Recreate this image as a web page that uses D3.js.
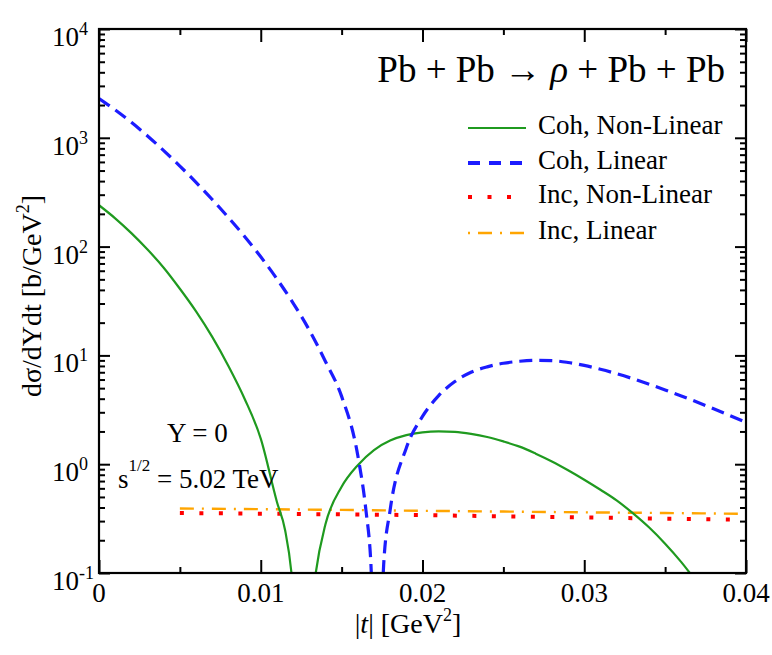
<!DOCTYPE html>
<html>
<head>
<meta charset="utf-8">
<script src="https://cdn.jsdelivr.net/npm/d3@7"></script>
<style>
  body { margin: 0; background: #fff; }
  svg { display: block; }
  text { font-family: "Liberation Serif", "Times New Roman", Times, serif; fill: #000; }
</style>
</head>
<body>
<svg id="chart" width="772" height="655"></svg>
<script>
// |t| [GeV^2] and dσ/dYdt [b/GeV^2] for each prediction
const cohNonLinear = [
  [0.000, 240], [0.001, 182], [0.002, 133], [0.003, 94], [0.004, 64],
  [0.005, 41], [0.006, 25.4], [0.007, 14.8], [0.008, 8.0], [0.009, 4.0],
  [0.010, 1.72], [0.011, 0.45], [0.0115, 0.25], [0.0119, 0.1], [0.0122, 0.027],
  [0.0125, 0.001], [0.0129, 0.02], [0.0134, 0.1], [0.014, 0.28], [0.015, 0.62],
  [0.016, 0.98], [0.017, 1.35], [0.018, 1.65], [0.019, 1.85], [0.020, 1.96],
  [0.021, 2.0], [0.022, 1.98], [0.023, 1.9], [0.024, 1.78], [0.025, 1.62],
  [0.026, 1.45], [0.027, 1.25], [0.028, 1.06], [0.029, 0.88], [0.030, 0.72],
  [0.031, 0.582], [0.032, 0.465], [0.033, 0.355], [0.034, 0.263], [0.035, 0.186],
  [0.036, 0.126], [0.037, 0.081]
];
const cohLinear = [
  [0.000, 2300], [0.001, 1807], [0.002, 1387], [0.003, 1040], [0.004, 762],
  [0.005, 550], [0.006, 389], [0.007, 271], [0.008, 185], [0.009, 124],
  [0.010, 80.5], [0.011, 50.5], [0.012, 30.3], [0.013, 17.1], [0.014, 8.8],
  [0.015, 4.2], [0.016, 1.2], [0.0165, 0.38], [0.0168, 0.13], [0.0172, 0.003],
  [0.0176, 0.12], [0.018, 0.38], [0.019, 1.41], [0.020, 2.75], [0.021, 4.27],
  [0.022, 5.75], [0.023, 7.0], [0.024, 7.85], [0.025, 8.47], [0.026, 8.83],
  [0.027, 9.0], [0.028, 8.95], [0.029, 8.61], [0.030, 8.09], [0.031, 7.46],
  [0.032, 6.79], [0.033, 6.11], [0.034, 5.44], [0.035, 4.82], [0.036, 4.24],
  [0.037, 3.71], [0.038, 3.23], [0.039, 2.80], [0.040, 2.42]
];
const incNonLinear = [
  [0.005, 0.356], [0.010, 0.351], [0.015, 0.346], [0.020, 0.340],
  [0.025, 0.332], [0.030, 0.324], [0.035, 0.316], [0.040, 0.308]
];
const incLinear = [
  [0.005, 0.392], [0.010, 0.386], [0.015, 0.380], [0.020, 0.373],
  [0.025, 0.367], [0.030, 0.361], [0.035, 0.356], [0.040, 0.350]
];

const xMajor = [0, 0.01, 0.02, 0.03, 0.04];
const xMajorLabels = ["0", "0.01", "0.02", "0.03", "0.04"];
const xMinor = [0.005, 0.015, 0.025, 0.035];
const yExponents = [-1, 0, 1, 2, 3, 4];
const yMinor = [];
for (let e = -1; e < 4; e++) for (let m = 2; m <= 9; m++) yMinor.push(m * Math.pow(10, e));

const series = [
  { name: "Coh, Non-Linear", data: cohNonLinear, color: "#1f9a1f", width: 2.2, dash: null, legendDash: null },
  { name: "Coh, Linear", data: cohLinear, color: "#1c1cff", width: 3.2, dash: "13,7", legendDash: "12,9" },
  { name: "Inc, Non-Linear", data: incNonLinear, color: "#ff0000", width: 4, dash: "4,15.5", legendDash: "4,15.5" },
  { name: "Inc, Linear", data: incLinear, color: "#ffa500", width: 2.4, dash: "14,8,2,8", legendDash: "2,8,14,8" }
];

const svg = d3.select("#chart");
const plot = { left: 99, right: 746, top: 29, bottom: 573 };

const x = d3.scaleLinear().domain([0, 0.04]).range([plot.left, plot.right]);
const y = d3.scaleLog().domain([0.1, 1e4]).range([plot.bottom, plot.top]);

svg.append("clipPath").attr("id", "plot-clip")
  .append("rect")
  .attr("x", plot.left).attr("y", plot.top)
  .attr("width", plot.right - plot.left).attr("height", plot.bottom - plot.top);

// curves
const line = d3.line()
  .x(d => x(d[0]))
  .y(d => y(d[1]))
  .curve(d3.curveMonotoneX);

const curves = svg.append("g").attr("clip-path", "url(#plot-clip)");
[series[3], series[2], series[0], series[1]].forEach(s => {
  curves.append("path")
    .datum(s.data)
    .attr("fill", "none")
    .attr("stroke", s.color)
    .attr("stroke-width", s.width)
    .attr("stroke-dasharray", s.dash)
    .attr("d", line);
});

// inward ticks on all four sides
function ticks(axisFn, scale, values, size, transform) {
  svg.append("g")
    .attr("transform", transform)
    .call(axisFn(scale).tickValues(values).tickSize(-size).tickSizeOuter(0).tickFormat(""))
    .call(g => g.select(".domain").remove())
    .call(g => g.selectAll("line").attr("stroke", "#000").attr("stroke-width", 2));
}
ticks(d3.axisBottom, x, xMajor, 13, `translate(0,${plot.bottom})`);
ticks(d3.axisBottom, x, xMinor, 6, `translate(0,${plot.bottom})`);
ticks(d3.axisTop, x, xMajor, 13, `translate(0,${plot.top})`);
ticks(d3.axisTop, x, xMinor, 6, `translate(0,${plot.top})`);
ticks(d3.axisLeft, y, yExponents.map(e => Math.pow(10, e)), 11, `translate(${plot.left},0)`);
ticks(d3.axisLeft, y, yMinor, 6, `translate(${plot.left},0)`);
ticks(d3.axisRight, y, yExponents.map(e => Math.pow(10, e)), 11, `translate(${plot.right},0)`);
ticks(d3.axisRight, y, yMinor, 6, `translate(${plot.right},0)`);

// frame
svg.append("rect")
  .attr("x", plot.left).attr("y", plot.top)
  .attr("width", plot.right - plot.left).attr("height", plot.bottom - plot.top)
  .attr("fill", "none").attr("stroke", "#000").attr("stroke-width", 2.2);

// x tick labels
svg.append("g").selectAll("text")
  .data(xMajor)
  .join("text")
  .attr("x", d => x(d))
  .attr("y", plot.bottom + 29)
  .attr("text-anchor", "middle")
  .attr("font-size", 27)
  .text((d, i) => xMajorLabels[i]);

// y tick labels: 10 with a raised exponent
const yLab = svg.append("g").selectAll("text")
  .data(yExponents)
  .join("text")
  .attr("x", 52)
  .attr("y", d => y(Math.pow(10, d)) + 17)
  .attr("font-size", 27);
yLab.append("tspan").text("10");
yLab.append("tspan").attr("dy", -11).attr("font-size", 18).text(d => String(d));

// axis titles
const yTitle = svg.append("text")
  .attr("transform", "translate(41,296) rotate(-90)")
  .attr("text-anchor", "middle")
  .attr("font-size", 28);
yTitle.append("tspan").text("dσ/dYdt [b/GeV");
yTitle.append("tspan").attr("dy", -12).attr("font-size", 18).text("2");
yTitle.append("tspan").attr("dy", 12).text("]");

const xTitle = svg.append("text")
  .attr("x", 408).attr("y", 633)
  .attr("text-anchor", "middle")
  .attr("font-size", 28);
xTitle.append("tspan").text("|");
xTitle.append("tspan").attr("font-style", "italic").text("t");
xTitle.append("tspan").text("| [GeV");
xTitle.append("tspan").attr("dy", -12).attr("font-size", 18).text("2");
xTitle.append("tspan").attr("dy", 12).text("]");

// process title
const title = svg.append("text")
  .attr("x", 725).attr("y", 82)
  .attr("text-anchor", "end")
  .attr("font-size", 37);
title.append("tspan").text("Pb + Pb → ");
title.append("tspan").attr("font-style", "italic").text("ρ");
title.append("tspan").text(" + Pb + Pb");

// kinematics annotation
svg.append("text").attr("x", 167).attr("y", 442).attr("font-size", 27).text("Y = 0");
const sText = svg.append("text").attr("x", 118).attr("y", 488).attr("font-size", 27);
sText.append("tspan").text("s");
sText.append("tspan").attr("dy", -17).attr("font-size", 17).text("1/2");
sText.append("tspan").attr("dy", 17).text(" = 5.02 TeV");

// legend
const legendRows = [128, 163, 197, 233];
const legend = svg.append("g");
series.forEach((s, i) => {
  const ry = legendRows[i];
  legend.append("line")
    .attr("x1", 468).attr("x2", 526)
    .attr("y1", ry).attr("y2", ry)
    .attr("stroke", s.color)
    .attr("stroke-width", i === 1 ? 4 : s.width)
    .attr("stroke-dasharray", s.legendDash);
  legend.append("text")
    .attr("x", 538).attr("y", ry + 6)
    .attr("font-size", 27)
    .text(s.name);
});
</script>
</body>
</html>
